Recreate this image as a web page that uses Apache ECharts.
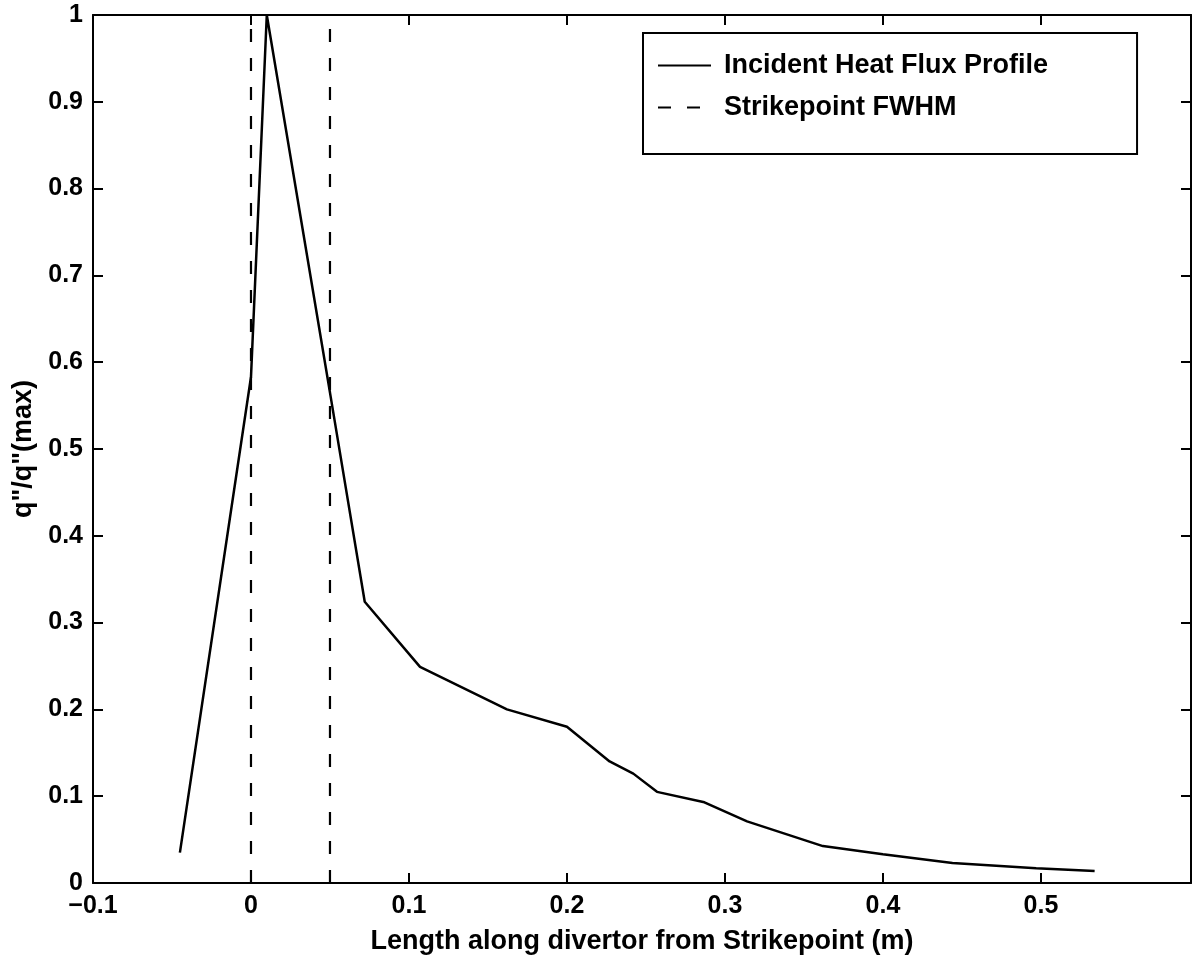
<!DOCTYPE html>
<html>
<head>
<meta charset="utf-8">
<script src="https://cdn.jsdelivr.net/npm/echarts@6/dist/echarts.min.js"></script>
<style>
html,body{margin:0;padding:0;background:#fff;}
#chart{width:1192px;height:960px;}
</style>
</head>
<body>
<div id="chart"></div>
<script>
// Data
const profileX = [-0.045, 0.0, 0.010, 0.050, 0.072, 0.107, 0.162, 0.200, 0.227, 0.242, 0.257, 0.287, 0.314, 0.362, 0.400, 0.444, 0.497, 0.534];
const profileY = [0.035, 0.583, 1.000, 0.565, 0.324, 0.249, 0.200, 0.180, 0.140, 0.126, 0.105, 0.093, 0.071, 0.0425, 0.033, 0.023, 0.017, 0.0138];
const fwhmLeftX = [0, 0];
const fwhmRightX = [0.05, 0.05];
const fwhmY = [0, 1];
const xTicks = [-0.1, 0, 0.1, 0.2, 0.3, 0.4, 0.5];
const yTicks = [0, 0.1, 0.2, 0.3, 0.4, 0.5, 0.6, 0.7, 0.8, 0.9, 1];
const seriesNames = ['Incident Heat Flux Profile', 'Strikepoint FWHM'];
const xTitle = 'Length along divertor from Strikepoint (m)';
const yTitle = 'q"/q"(max)';

const FONT = 'Liberation Sans, Arial, Helvetica, sans-serif';
const pair = (xs, ys) => xs.map((x, i) => [x, ys[i]]);

const fmt = v => {
  const r = Math.round(v * 10) / 10;
  if (Math.abs(r) < 1e-9) return '0';
  if (r === 1) return '1';
  return (r < 0 ? '\u2212' : '') + Math.abs(r).toString();
};

const axisCommon = {
  axisLine: { show: true, onZero: false, lineStyle: { color: '#000', width: 2 } },
  axisTick: { show: true, inside: true, length: 10, lineStyle: { color: '#000', width: 2 } },
  splitLine: { show: false }
};

const chart = echarts.init(document.getElementById('chart'), null, { renderer: 'canvas' });
chart.setOption({
  backgroundColor: '#fff',
  animation: false,
  grid: { left: 93, right: 1, top: 15, bottom: 75, containLabel: false },
  legend: {
    data: seriesNames,
    orient: 'vertical',
    left: 643,
    top: 33,
    backgroundColor: '#fff',
    borderColor: '#000',
    borderWidth: 2,
    borderRadius: 0,
    padding: [19, 89, 33, 14],
    itemWidth: 53,
    itemHeight: 20,
    itemGap: 15,
    itemStyle: { opacity: 0 },
    textStyle: { fontFamily: FONT, fontSize: 27, fontWeight: 'bold', color: '#000', padding: [0, 0, 0, 8] }
  },
  xAxis: [
    Object.assign({}, axisCommon, {
      type: 'value', position: 'bottom', min: -0.1, max: 0.595, interval: 0.1,
      name: xTitle, nameLocation: 'middle', nameGap: 45,
      nameTextStyle: { fontFamily: FONT, fontSize: 27, fontWeight: 'bold', color: '#000' },
      axisLabel: {
        show: true, margin: 11, showMaxLabel: false, color: '#000',
        fontFamily: FONT, fontSize: 25, fontWeight: 'bold',
        formatter: v => xTicks.some(t => Math.abs(t - v) < 1e-6) ? fmt(v) : ''
      }
    }),
    Object.assign({}, axisCommon, {
      type: 'value', position: 'top', min: -0.1, max: 0.595, interval: 0.1,
      axisLabel: { show: false }
    })
  ],
  yAxis: [
    Object.assign({}, axisCommon, {
      type: 'value', position: 'left', min: 0, max: 1, interval: 0.1,
      name: yTitle, nameLocation: 'middle', nameGap: 52, nameRotate: 90,
      nameTextStyle: { fontFamily: FONT, fontSize: 27, fontWeight: 'bold', color: '#000' },
      axisLabel: {
        show: true, margin: 10, color: '#000',
        fontFamily: FONT, fontSize: 25, fontWeight: 'bold',
        formatter: v => yTicks.some(t => Math.abs(t - v) < 1e-6) ? fmt(v) : ''
      }
    }),
    Object.assign({}, axisCommon, {
      type: 'value', position: 'right', min: 0, max: 1, interval: 0.1,
      axisLabel: { show: false }
    })
  ],
  series: [
    {
      name: seriesNames[0], type: 'line', xAxisIndex: 0, yAxisIndex: 0,
      data: pair(profileX, profileY), showSymbol: false, symbol: 'none',
      lineStyle: { color: '#000', width: 2.5 }, itemStyle: { color: '#000' }, z: 3
    },
    {
      name: seriesNames[1], type: 'line', xAxisIndex: 0, yAxisIndex: 0,
      data: pair(fwhmLeftX, fwhmY), showSymbol: false, symbol: 'none',
      lineStyle: { color: '#000', width: 2.2, type: [13, 16] }, itemStyle: { color: '#000' }, z: 2
    },
    {
      name: seriesNames[1], type: 'line', xAxisIndex: 0, yAxisIndex: 0,
      data: pair(fwhmRightX, fwhmY), showSymbol: false, symbol: 'none',
      lineStyle: { color: '#000', width: 2.2, type: [13, 16] }, itemStyle: { color: '#000' }, z: 2
    }
  ]
});
</script>
</body>
</html>
